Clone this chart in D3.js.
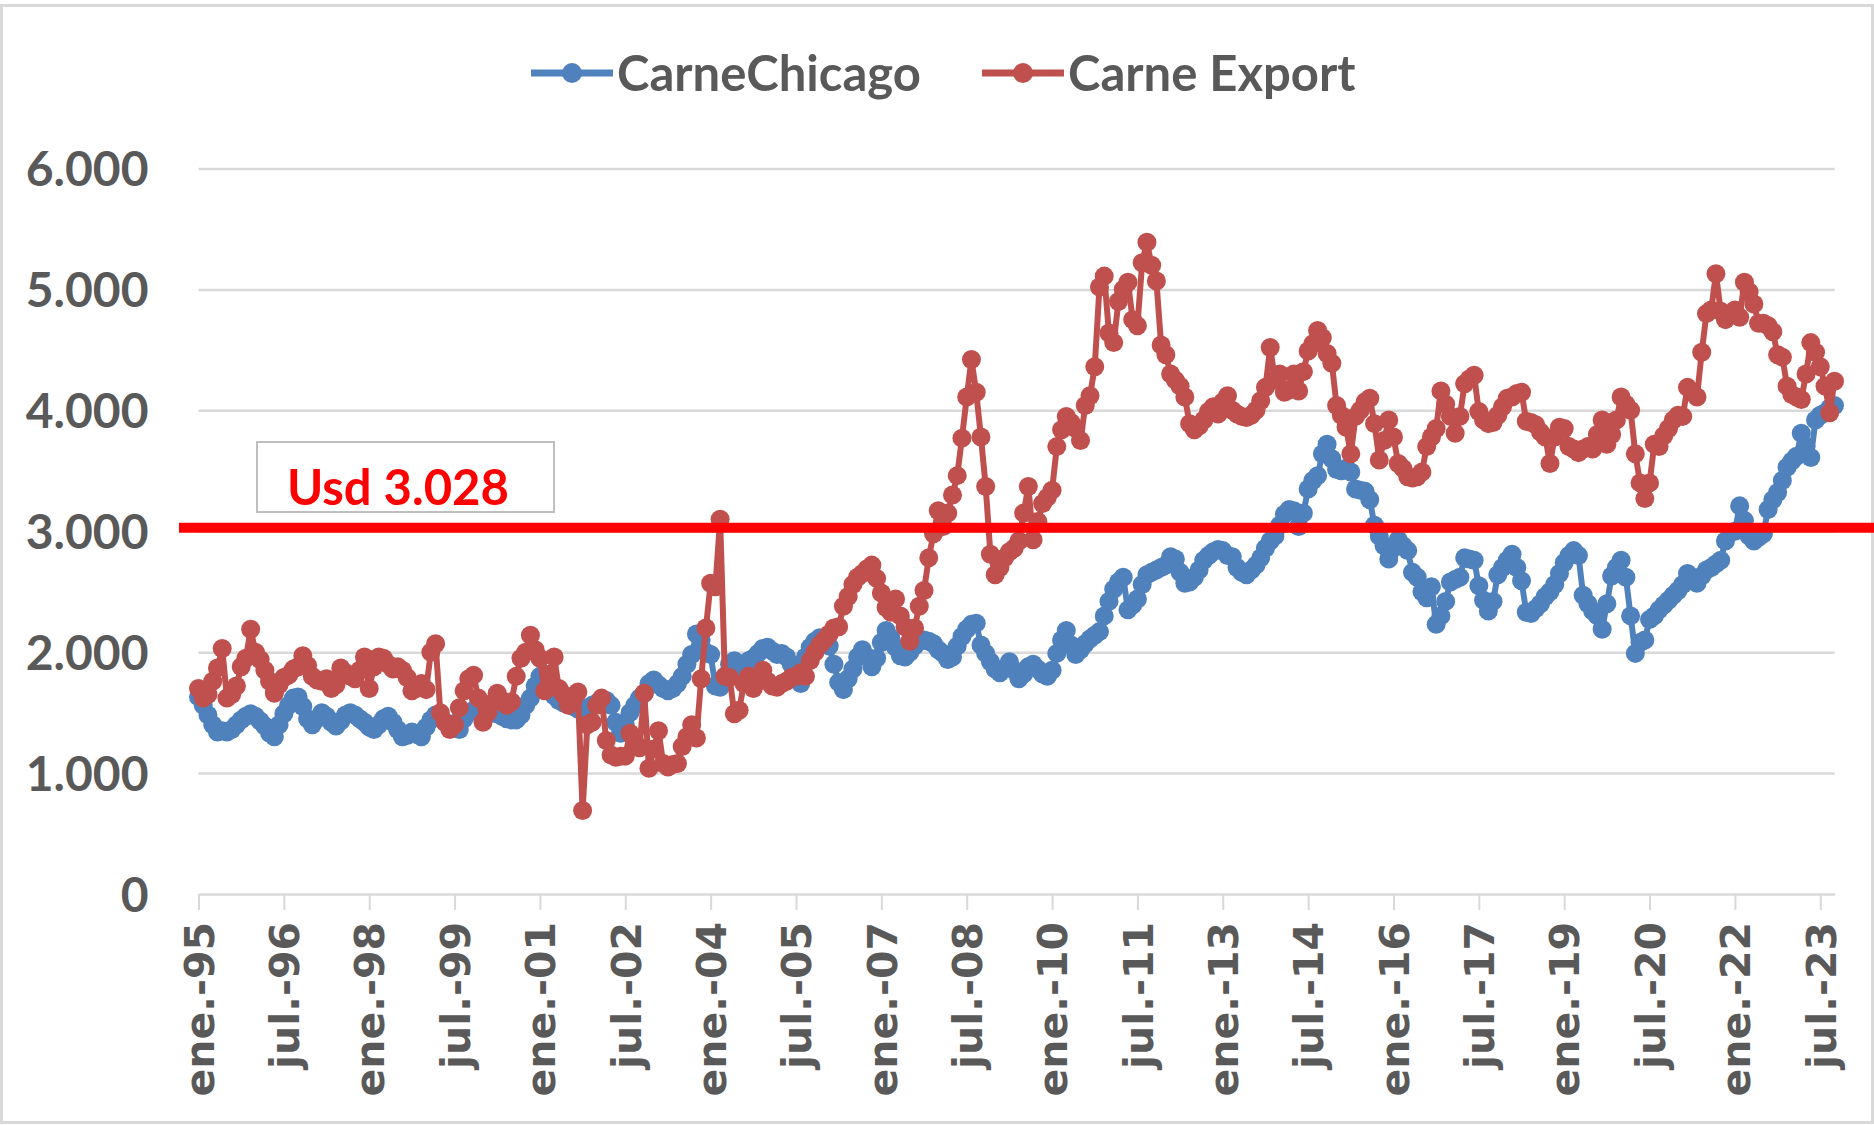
<!DOCTYPE html>
<html>
<head>
<meta charset="utf-8">
<script src="https://cdn.jsdelivr.net/npm/d3@7"></script>
<style>
  body { margin: 0; background: #fff; }
  svg { display: block; }
</style>
</head>
<body>
<svg id="chart" width="1874" height="1125"></svg>
<script>
// month names used for the category labels
const monthNames = ['ene.', 'feb.', 'mar.', 'abr.', 'may.', 'jun.', 'jul.', 'ago.', 'sep.', 'oct.', 'nov.', 'dic.']
const firstYear = 1995
const lastYear = 2023
const lastMonth = 9 // oct.-23

const seriesNames = ['CarneChicago', 'Carne Export']

// CarneChicago, monthly, ene.-95 .. oct.-23
const chicago = [
  1630,1560,1480,1400,1340,1350,1340,1360,1400,1440,1470,1490,
  1470,1430,1390,1330,1300,1400,1490,1560,1620,1630,1550,1450,
  1400,1450,1500,1470,1420,1390,1430,1480,1500,1480,1450,1420,
  1380,1360,1400,1450,1470,1420,1360,1300,1310,1340,1320,1300,
  1380,1440,1480,1460,1420,1400,1410,1360,1450,1500,1520,1550,
  1540,1520,1500,1490,1470,1450,1440,1440,1480,1560,1620,1720,
  1800,1820,1750,1640,1600,1580,1570,1550,1530,1520,1540,1560,
  1580,1590,1600,1560,1420,1330,1400,1500,1560,1620,1660,1740,
  1770,1730,1700,1680,1700,1740,1800,1900,1980,2150,2100,2000,
  1980,1720,1710,1800,1900,1930,1880,1860,1930,1950,1990,2030,
  2040,2010,1980,1990,1960,1900,1800,1740,1960,2040,2090,2120,
  2110,2050,1900,1750,1690,1780,1860,1960,2020,1960,1880,1950,
  2080,2180,2120,2040,1970,1960,2000,2050,2090,2100,2090,2070,
  2020,1990,1940,1960,2050,2130,2190,2230,2240,2060,1990,1920,
  1860,1830,1870,1920,1850,1780,1820,1880,1900,1860,1820,1800,
  1850,1990,2100,2180,2060,1980,2020,2070,2110,2140,2170,2300,
  2420,2520,2580,2620,2350,2390,2440,2560,2640,2660,2680,2700,
  2720,2790,2770,2660,2570,2580,2620,2680,2760,2800,2830,2850,
  2840,2800,2790,2700,2660,2640,2680,2720,2780,2860,2920,2960,
  3050,3140,3180,3170,3040,3150,3350,3420,3460,3640,3720,3600,
  3510,3500,3520,3490,3350,3340,3330,3260,3050,2960,2880,2770,
  2860,2930,2880,2840,2660,2620,2500,2450,2540,2230,2300,2420,
  2580,2600,2620,2780,2770,2760,2550,2430,2340,2420,2640,2700,
  2760,2810,2700,2590,2330,2320,2360,2400,2460,2500,2560,2650,
  2740,2800,2840,2800,2470,2400,2340,2300,2190,2400,2630,2700,
  2760,2620,2300,1990,2080,2100,2270,2300,2350,2390,2430,2470,
  2510,2560,2650,2620,2570,2630,2680,2700,2730,2760,2920,2990,
  3000,3210,3090,2960,2920,2950,2980,3180,3260,3320,3420,3530,
  3580,3620,3810,3700,3610,3920,3960,3980,4020,4040
]

// Carne Export, monthly, ene.-95 .. oct.-23
const carneExport = [
  1700,1620,1650,1760,1870,2030,1620,1650,1720,1880,1950,2190,
  2000,1940,1850,1760,1660,1730,1790,1810,1860,1880,1970,1890,
  1800,1770,1760,1780,1700,1730,1870,1830,1800,1780,1850,1960,
  1700,1880,1960,1950,1900,1860,1880,1850,1790,1680,1700,1740,
  1690,2000,2070,1500,1420,1360,1400,1540,1680,1780,1810,1620,
  1420,1500,1580,1660,1600,1560,1590,1800,1950,2000,2140,2020,
  1950,1680,1820,1960,1700,1650,1560,1600,1670,690,1400,1420,
  1560,1620,1270,1150,1130,1140,1140,1330,1260,1210,1660,1040,
  1200,1350,1080,1050,1070,1080,1220,1300,1400,1290,1780,2200,
  2570,2540,3100,1800,1790,1490,1520,1740,1800,1700,1770,1850,
  1760,1720,1710,1740,1760,1790,1800,1830,1800,1930,2000,2060,
  2100,2150,2200,2210,2380,2460,2560,2620,2650,2690,2720,2610,
  2490,2370,2330,2440,2300,2210,2090,2200,2380,2510,2780,2980,
  3170,3040,3150,3300,3460,3770,4110,4420,4150,3780,3370,2810,
  2640,2700,2780,2830,2860,2920,3150,3370,2930,3080,3230,3280,
  3340,3700,3840,3950,3900,3850,3750,4040,4120,4360,5020,5110,
  4640,4560,4900,5000,5060,4750,4700,5220,5390,5200,5070,4540,
  4460,4300,4250,4200,4110,3890,3840,3870,3920,3990,4030,3970,
  4070,4120,4000,3970,3950,3940,3960,4000,4080,4190,4520,4250,
  4300,4150,4170,4300,4160,4320,4490,4550,4660,4600,4470,4390,
  4040,3960,3860,3640,3950,4000,4070,4100,3890,3590,3750,3920,
  3780,3560,3520,3450,3440,3450,3490,3700,3780,3850,4160,4050,
  3950,3810,3950,4220,4260,4290,3990,3920,3890,3900,3960,4030,
  4100,4110,4140,4150,3910,3900,3880,3820,3780,3560,3780,3860,
  3850,3700,3680,3650,3680,3700,3680,3800,3920,3720,3800,3920,
  4110,4050,4000,3640,3400,3270,3400,3720,3700,3790,3850,3920,
  3960,3950,4190,4150,4110,4480,4800,4830,5130,4820,4750,4790,
  4830,4770,5060,4980,4880,4720,4720,4700,4650,4460,4440,4200,
  4130,4110,4090,4300,4560,4480,4360,4200,3980,4240
]

// y ticks and reference value
const yTicks = [0, 1000, 2000, 3000, 4000, 5000, 6000]
const refValue = 3028
const refLabel = 'Usd 3.028'
const labelEvery = 18 // one label every 18 months

// build month categories
const months = []
for (let y = firstYear; y <= lastYear; y++) {
  for (let m = 0; m < 12; m++) {
    if (y === lastYear && m > lastMonth) break
    months.push(monthNames[m] + '-' + String(y).slice(2))
  }
}

// sizes
const svgWidth = 1874
const svgHeight = 1125
const plot = { left: 198.5, right: 1834.5, top: 168.5, bottom: 894 }

const colors = ['#4F81BD', '#C0504D']
const textColor = '#595959'
const gridColor = '#D9D9D9'

const svg = d3.select('#chart')

// chart border
svg.append('rect')
  .attr('x', 1.5).attr('y', 5.5)
  .attr('width', svgWidth - 3).attr('height', svgHeight - 8)
  .attr('fill', '#fff')
  .attr('stroke', gridColor)
  .attr('stroke-width', 3)

// scales
const xScale = d3.scalePoint()
  .domain(months)
  .range([plot.left, plot.right])

const yScale = d3.scaleLinear()
  .domain([0, 6000])
  .range([plot.bottom, plot.top])

const esFormat = d3.formatLocale({ decimal: ',', thousands: '.', grouping: [3], currency: ['', ''] }).format(',d')

// y gridlines
svg.append('g')
  .attr('class', 'y-grid')
  .attr('transform', `translate(${plot.left},0)`)
  .call(d3.axisLeft(yScale).tickValues(yTicks.filter(d => d > 0)).tickSize(-(plot.right - plot.left)).tickFormat(''))
  .call(g => g.select('.domain').remove())
  .call(g => g.selectAll('.tick line').attr('stroke', gridColor).attr('stroke-width', 2.5))

// y axis labels
svg.append('g')
  .attr('class', 'y-axis')
  .attr('transform', `translate(${plot.left},0)`)
  .call(d3.axisLeft(yScale).tickValues(yTicks).tickSize(0).tickPadding(50).tickFormat(esFormat))
  .call(g => g.select('.domain').remove())
  .call(g => g.selectAll('text')
    .attr('fill', textColor)
    .attr('font-family', 'Lato, sans-serif')
    .attr('font-weight', 'bold')
    .attr('font-size', 48)
    .attr('dy', '0.36em'))

// x axis
const tickMonths = months.filter((d, i) => i % labelEvery === 0)
svg.append('g')
  .attr('class', 'x-axis')
  .attr('transform', `translate(0,${plot.bottom})`)
  .call(d3.axisBottom(xScale).tickValues(tickMonths).tickSize(16).tickSizeOuter(0).tickPadding(0))
  .call(g => g.select('.domain').attr('stroke', gridColor).attr('stroke-width', 2.5))
  .call(g => g.selectAll('.tick line').attr('stroke', gridColor).attr('stroke-width', 2))
  .call(g => g.selectAll('text')
    .attr('fill', textColor)
    .attr('font-family', '"DejaVu Sans", sans-serif')
    .attr('font-weight', 'bold')
    .attr('font-size', 41)
    .attr('text-anchor', 'end')
    .attr('transform', 'rotate(-90)')
    .attr('x', -28)
    .attr('y', 0)
    .attr('dy', '0.36em'))

// series lines and markers
const series = [chicago, carneExport]
const line = d3.line()
  .x((d, i) => xScale(months[i]))
  .y(d => yScale(d))

series.forEach((values, s) => {
  const g = svg.append('g').attr('class', 'series series-' + s)
  g.append('path')
    .datum(values)
    .attr('d', line)
    .attr('fill', 'none')
    .attr('stroke', colors[s])
    .attr('stroke-width', 6)
    .attr('stroke-linejoin', 'round')
  g.selectAll('circle')
    .data(values)
    .join('circle')
    .attr('cx', (d, i) => xScale(months[i]))
    .attr('cy', d => yScale(d))
    .attr('r', 9.5)
    .attr('fill', colors[s])
})

// reference line (drawn shape, wider than the plot area)
svg.append('line')
  .attr('x1', 179).attr('x2', svgWidth)
  .attr('y1', yScale(refValue)).attr('y2', yScale(refValue))
  .attr('stroke', '#FF0000')
  .attr('stroke-width', 10)

// reference label box
svg.append('rect')
  .attr('x', 257).attr('y', 442)
  .attr('width', 297).attr('height', 70)
  .attr('fill', '#fff')
  .attr('stroke', '#BFBFBF')
  .attr('stroke-width', 2)

svg.append('text')
  .attr('x', 287).attr('y', 505)
  .text(refLabel)
  .attr('fill', '#FF0000')
  .attr('font-family', 'Lato, sans-serif')
  .attr('font-weight', 'bold')
  .attr('font-size', 49)

// legend
const legendX = [531, 982]
const legendY = 73
const legend = svg.append('g').attr('class', 'legend')
seriesNames.forEach((name, s) => {
  legend.append('line')
    .attr('x1', legendX[s]).attr('x2', legendX[s] + 82)
    .attr('y1', legendY).attr('y2', legendY)
    .attr('stroke', colors[s])
    .attr('stroke-width', 7)
  legend.append('circle')
    .attr('cx', legendX[s] + 41).attr('cy', legendY)
    .attr('r', 10)
    .attr('fill', colors[s])
  legend.append('text')
    .attr('x', legendX[s] + 86).attr('y', legendY)
    .attr('dy', '0.36em')
    .text(name)
    .attr('fill', textColor)
    .attr('font-family', 'Lato, sans-serif')
    .attr('font-weight', 'bold')
    .attr('font-size', 49)
})
</script>
</body>
</html>
